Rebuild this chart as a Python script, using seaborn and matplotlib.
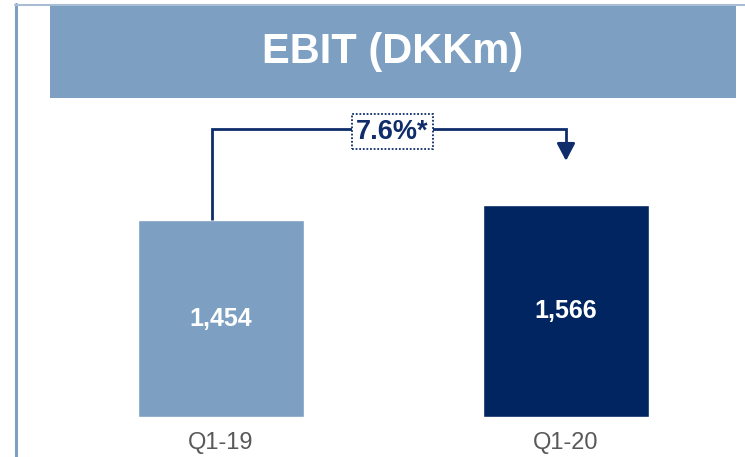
import matplotlib
matplotlib.use("Agg")
import matplotlib.pyplot as plt
import seaborn as sns
import pandas as pd
from matplotlib.patches import Rectangle
from matplotlib.lines import Line2D

# data
periods = ["Q1-19", "Q1-20"]
ebit = [1454, 1566]
growth_label = "7.6%*"
title = "EBIT (DKKm)"

LIGHT = "#7C9FC2"
NAVY = "#002561"
LINE = "#0F2D6B"

W, H = 745, 457


def fx(px):
    return px / W


def fy(py):
    # py measured from top of the image
    return 1 - py / H


if __name__ == '__main__':
    sns.set_style("white")
    plt.rcParams["font.family"] = ["Liberation Sans", "DejaVu Sans"]

    df = pd.DataFrame({"period": periods, "ebit": ebit})

    fig = plt.figure(figsize=(W / 100, H / 100), dpi=100)
    fig.patch.set_facecolor("white")

    # frame lines + title banner
    fig.add_artist(Line2D([fx(16.2), fx(16.2)], [fy(4), 0], color=LIGHT, lw=2.2))
    fig.add_artist(Line2D([fx(15), 1], [fy(5), fy(5)], color="#A9BED4", lw=1.5))
    fig.add_artist(Rectangle((fx(50), fy(98)), fx(736) - fx(50), fy(6) - fy(98),
                             facecolor=LIGHT, edgecolor="none"))
    fig.text(fx(393), fy(52), title, ha="center", va="center", color="white",
             fontsize=30, fontweight="bold")

    ax = fig.add_axes([0, 40 / H, 1, 417 / H])
    sns.barplot(data=df, x="period", y="ebit", hue="period", palette=[LIGHT, NAVY],
                width=0.48, legend=False, ax=ax, saturation=1)
    ax.set_xlim(-221 / 345, (W - 221) / 345)
    ax.set_ylim(0, 417 / (212 / 1566))
    ax.set_xlabel("")
    ax.set_ylabel("")
    ax.set_yticks([])
    ax.tick_params(axis="x", length=0, pad=11, labelsize=17, labelcolor="#595959")
    sns.despine(ax=ax, left=True, bottom=True)
    ax.patch.set_alpha(0)

    for i, v in enumerate(ebit):
        ax.text(i, v / 2, f"{v:,}", ha="center", va="center", color="white",
                fontsize=18, fontweight="bold")

    # growth connector
    level = max(ebit) * 1.358
    end = max(ebit) * 1.208
    ax.plot([-0.026, -0.026, 1, 1], [ebit[0], level, level, end + 100],
            color=LINE, lw=2, solid_capstyle="butt", solid_joinstyle="miter")
    ax.annotate("", xy=(1, end), xytext=(1, end + 120),
                arrowprops=dict(arrowstyle="-|>,head_length=1.05,head_width=0.55",
                                color=LINE, lw=2, shrinkA=0, shrinkB=0))
    ax.text(0.496, level - 18, growth_label, ha="center", va="center", color=LINE,
            fontsize=19.5, fontweight="bold",
            bbox=dict(boxstyle="square,pad=0.16", facecolor="white", edgecolor=LINE,
                      linestyle=(0, (1, 1)), linewidth=1.3))

    plt.savefig("out.png", dpi=100)
